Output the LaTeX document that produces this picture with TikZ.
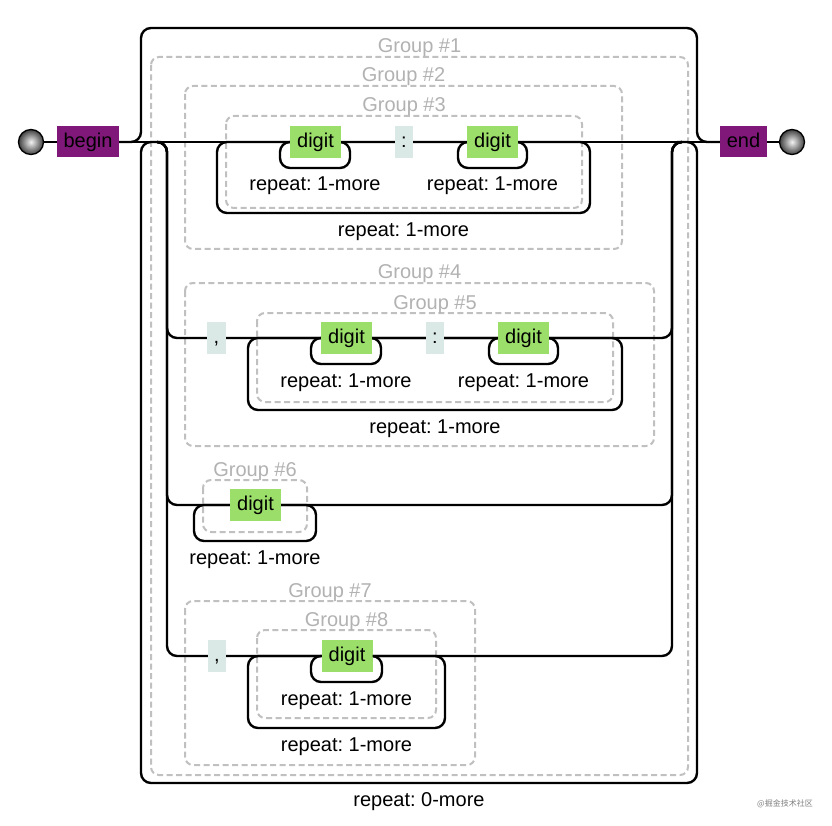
\documentclass[tikz,border=0pt]{standalone}
\usepackage{fontspec}
\setmainfont{Liberation Sans}
\newfontfamily\cjk{Noto Sans CJK SC}
\usetikzlibrary{calc}
\frenchspacing
\definecolor{grpline}{RGB}{192,192,192}
\definecolor{grptext}{RGB}{178,178,178}
\definecolor{anchorfill}{RGB}{128,24,122}
\definecolor{digitfill}{RGB}{155,222,106}
\definecolor{litfill}{RGB}{218,233,229}
\tikzset{
  rail/.style={line width=2.4pt, draw=black},
  grp/.style={line width=2pt, draw=grpline, dash pattern=on 6pt off 3.5pt, rounded corners=8pt},
  txt/.style={font=\fontsize{20}{24}\selectfont\frenchspacing, inner sep=0pt, text height=14pt, text depth=3pt},
  anchorbox/.style={txt, fill=anchorfill, minimum height=31pt, text=black},
  digitbox/.style={txt, fill=digitfill, minimum width=51pt, minimum height=32pt},
  litbox/.style={txt, fill=litfill, minimum width=18pt, minimum height=32pt},
  lbl/.style={font=\fontsize{20}{24}\selectfont\frenchspacing, inner sep=0pt, anchor=base},
  glbl/.style={font=\fontsize{20}{24}\selectfont\frenchspacing, inner sep=0pt, anchor=base, text=grptext},
  terminal/.style={circle, draw=black, line width=1.3pt, minimum size=25pt, inner sep=0pt, inner color=gray!10, outer color=black!75},
  loopbox/.style={rail, rounded corners=10pt}
}
\begin{document}
\begin{tikzpicture}[x=1pt,y=-1pt]
\useasboundingbox (0,0) rectangle (832,826);
\fill[white] (0,0) rectangle (832,826);

% dashed groups
\draw[grp] (151,57) rectangle (688,775);
\draw[grp] (185,86) rectangle (622,249);
\draw[grp] (226,116) rectangle (582,208);
\draw[grp] (185,283) rectangle (654,446);
\draw[grp] (257,313) rectangle (613,402);
\draw[grp] (203,480) rectangle (307,532);
\draw[grp] (185,601) rectangle (475,765);
\draw[grp] (257,630) rectangle (436,718);

\node[glbl] (g1) at (419.5,53) {Group \#1};
\node[glbl] (g2) at (403.5,82) {Group \#2};
\node[glbl] (g3) at (404,112) {Group \#3};
\node[glbl] (g4) at (419.5,279) {Group \#4};
\node[glbl] (g5) at (435,309) {Group \#5};
\node[glbl] (g6) at (255,476) {Group \#6};
\node[glbl] (g7) at (330,597) {Group \#7};
\node[glbl] (g8) at (346.5,626) {Group \#8};

% repeat loops
\draw[loopbox] (280,142) rectangle (350,168);
\draw[loopbox] (458,142) rectangle (527,168);
\draw[loopbox] (217,142) rectangle (590,213);
\draw[loopbox] (311,338) rectangle (381,364);
\draw[loopbox] (489,338) rectangle (558,364);
\draw[loopbox] (248,338) rectangle (622,410);
\draw[loopbox] (194,505) rectangle (316,541);
\draw[loopbox] (311,656) rectangle (382,682);
\draw[loopbox] (248,656) rectangle (445,728);

\node[lbl] (r1) at (315,191) {repeat: 1-more};
\node[lbl] (r2) at (492.5,191) {repeat: 1-more};
\node[lbl] (r3) at (403.5,237) {repeat: 1-more};
\node[lbl] (r4) at (346,387) {repeat: 1-more};
\node[lbl] (r5) at (523.5,387) {repeat: 1-more};
\node[lbl] (r6) at (435,433) {repeat: 1-more};
\node[lbl] (r7) at (255,564) {repeat: 1-more};
\node[lbl] (r8) at (346.5,705) {repeat: 1-more};
\node[lbl] (r9) at (346.5,751) {repeat: 1-more};
\node[lbl] (r0) at (419,806) {repeat: 0-more};

% junction coordinates
\coordinate (sL) at (141,142);
\coordinate (tl) at (141,28);
\coordinate (tr) at (697,28);
\coordinate (sR) at (697,142);
\coordinate (bL) at (141,783);
\coordinate (bR) at (697,783);
\coordinate (aLt) at (157,142);
\coordinate (aL) at (167,142);
\coordinate (aR) at (672,142);
\coordinate (aRt) at (682,142);

% nodes
\node[terminal] (start) at (31,142) {};
\node[anchorbox, minimum width=62pt] (begin) at (88,142) {begin};
\node[anchorbox, minimum width=47pt] (end) at (743.5,142) {end};
\node[terminal] (stop) at (792,142) {};

\node[digitbox] (d1) at (315.5,142) {digit};
\node[litbox] (c1) at (404,142) {:};
\node[digitbox] (d2) at (492.5,142) {digit};

\node[litbox, minimum width=19pt] (k1) at (216.5,338) {,};
\node[digitbox] (d3) at (346.5,338) {digit};
\node[litbox] (c2) at (435,338) {:};
\node[digitbox] (d4) at (523.5,338) {digit};

\node[digitbox] (d5) at (255.5,505) {digit};

\node[litbox] (k2) at (217,656) {,};
\node[digitbox] (d6) at (347,656) {digit};

% connectors
\draw[rail] (start) -- (begin);
\draw[rail] (end) -- (stop);
\draw[rail] (begin) -- (d1) -- (c1) -- (d2) -- (end);
\draw[rail, rounded corners=10pt] (begin) -- (sL) -- (tl) -- (tr) -- (sR) -- (end);
\draw[rail, rounded corners=10pt] ($(sR)+(-20,0)$) -- (sR) -- (bR) -- (bL) -- (sL) -- ($(sL)+(20,0)$);
\draw[rail, rounded corners=10pt] (aLt) -- (aL) |- (k1) -- (d3) -- (c2) -- (d4) -| (aR) -- (aRt);
\draw[rail, rounded corners=10pt] (aLt) -- (aL) |- (d5) -| (aR) -- (aRt);
\draw[rail, rounded corners=10pt] (aLt) -- (aL) |- (k2) -- (d6) -| (aR) -- (aRt);

\node[font=\cjk\fontsize{8}{9}\selectfont, text=gray, inner sep=0pt] (wm) at (785,804) {@掘金技术社区};
\end{tikzpicture}
\end{document}
